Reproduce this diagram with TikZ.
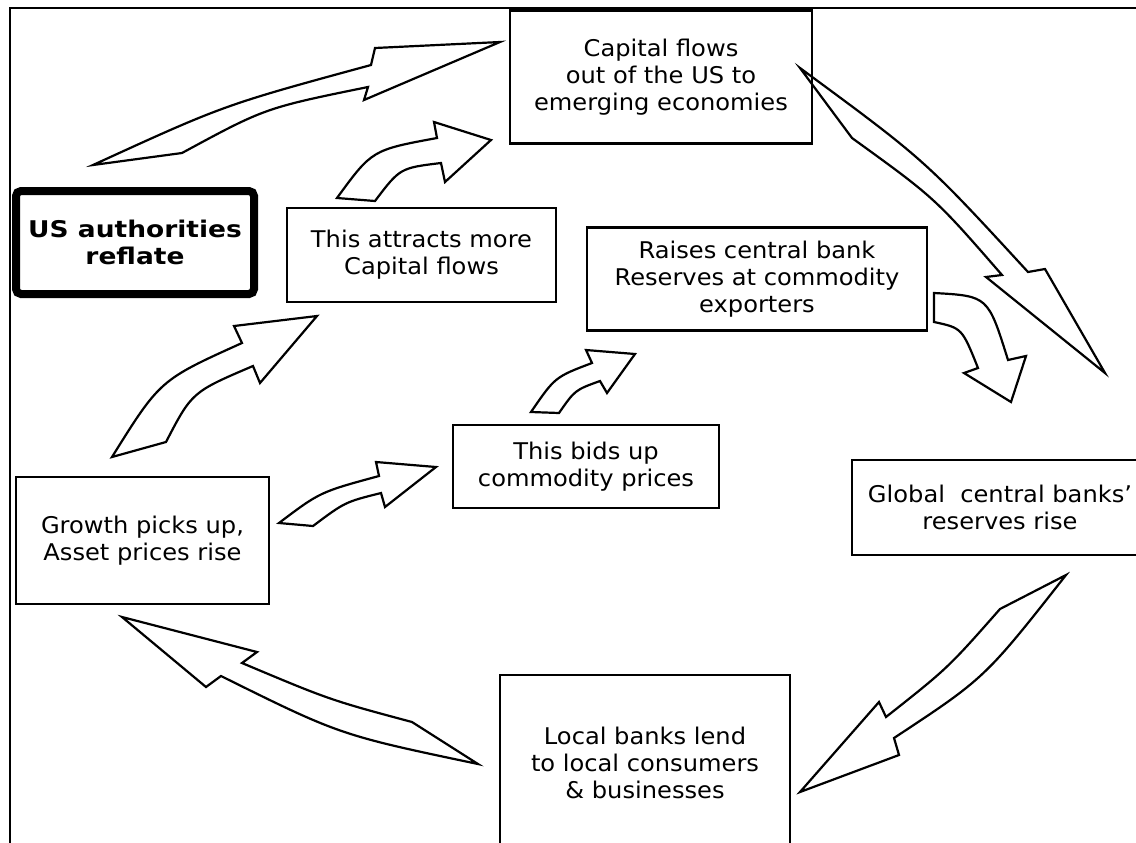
\documentclass[tikz,border=0pt]{standalone}
\usepackage{fontspec}
\setmainfont{DejaVu Sans}[FakeStretch=1.05]
\newfontfamily\usfont{DejaVu Sans}[FakeStretch=1.15]

\begin{document}
\begin{tikzpicture}[
      x=0.5pt, y=-0.5pt,
      font=\fontsize{11.5}{13.5}\selectfont,
      stepbox/.style={rectangle, draw=black, line width=1.1pt,
          align=center, inner sep=0pt},
      startbox/.style={rectangle, draw=black, line width=4pt, rounded corners=2.5pt,
          align=center, inner sep=0pt, font=\usfont\fontsize{11.5}{13.5}\selectfont\bfseries},
      fatarrow/.style={draw=black, line width=1.1pt, line join=miter}
  ]
  \useasboundingbox (0,0) rectangle (1136,842);
  \clip (0,0) rectangle (1136,842);
  \draw[line width=1pt] (10,8) rectangle (1170,880);

  \node[startbox, minimum width=119pt, minimum height=51.5pt] (us) at (135,242.5) {%
      US authorities\\reflate};
  \node[stepbox, minimum width=151pt, minimum height=66.5pt] (capital) at (661,77) {%
      Capital flows\\out of the US to\\emerging economies};
  \node[stepbox, minimum width=134.5pt, minimum height=47pt] (attract) at (421.5,255) {%
      This attracts more\\Capital flows};
  \node[stepbox, minimum width=170pt, minimum height=51.5pt] (raises) at (757,279) {%
      Raises central bank\\Reserves at commodity\\exporters};
  \node[stepbox, minimum width=133pt, minimum height=41.5pt] (bids) at (586,466.5) {%
      This bids up\\commodity prices};
  \node[stepbox, minimum width=148pt, minimum height=47.5pt] (global) at (1000,507.5) {%
      \makebox[0pt]{Global~~central banks'}\\reserves rise};
  \node[stepbox, minimum width=126.5pt, minimum height=63.5pt] (growth) at (142.5,540.5) {%
      Growth picks up,\\Asset prices rise};
  \node[stepbox, minimum width=145pt, minimum height=88pt] (local) at (645,763) {%
      Local banks lend\\to local consumers\\\& businesses};

  \draw[fatarrow] (93,165) .. controls (224,105) .. (371,65) -- (375,48) -- (500,42)
      -- (364,100) -- (368,87) .. controls (265,108) .. (182,153) -- cycle;
  \draw[fatarrow] (337,198) .. controls (372,150) .. (437,138) -- (434,122) -- (491,140)
      -- (445,182) -- (441,163) .. controls (400,168) .. (375,201) -- cycle;
  \draw[fatarrow] (800,68) .. controls (925,160) .. (1028,272) -- (1045,269) -- (1105,373)
      -- (986,277) -- (1002,275) .. controls (935,198) .. (852,138) -- cycle;
  \draw[fatarrow] (934,293) .. controls (988,296) .. (1008,360) -- (1026,356) -- (1011,402)
      -- (964,373) -- (978,368) .. controls (962,328) .. (934,322) -- cycle;
  \draw[fatarrow] (531,412) .. controls (555,377) .. (592,363) -- (586,350) -- (635,354)
      -- (607,393) -- (600,381) .. controls (575,390) .. (559,413) -- cycle;
  \draw[fatarrow] (112,457) .. controls (160,380) .. (242,343) -- (234,326) -- (317,316)
      -- (260,383) -- (253,366) .. controls (192,392) .. (166,442) -- cycle;
  \draw[fatarrow] (279,523) .. controls (320,492) .. (379,476) -- (376,462) -- (436,467)
      -- (385,507) -- (381,493) .. controls (345,502) .. (313,526) -- cycle;
  \draw[fatarrow] (122,617) -- (257,652) -- (242,663) .. controls (330,700) .. (412,722)
      -- (478,764) .. controls (340,735) .. (221,676) -- (206,687) -- cycle;
  \draw[fatarrow] (1000,609) .. controls (948,668) .. (886,717) -- (879,702) -- (800,792)
      -- (899,755) -- (894,738) .. controls (985,678) .. (1066,575) -- cycle;
\end{tikzpicture}
\end{document}
